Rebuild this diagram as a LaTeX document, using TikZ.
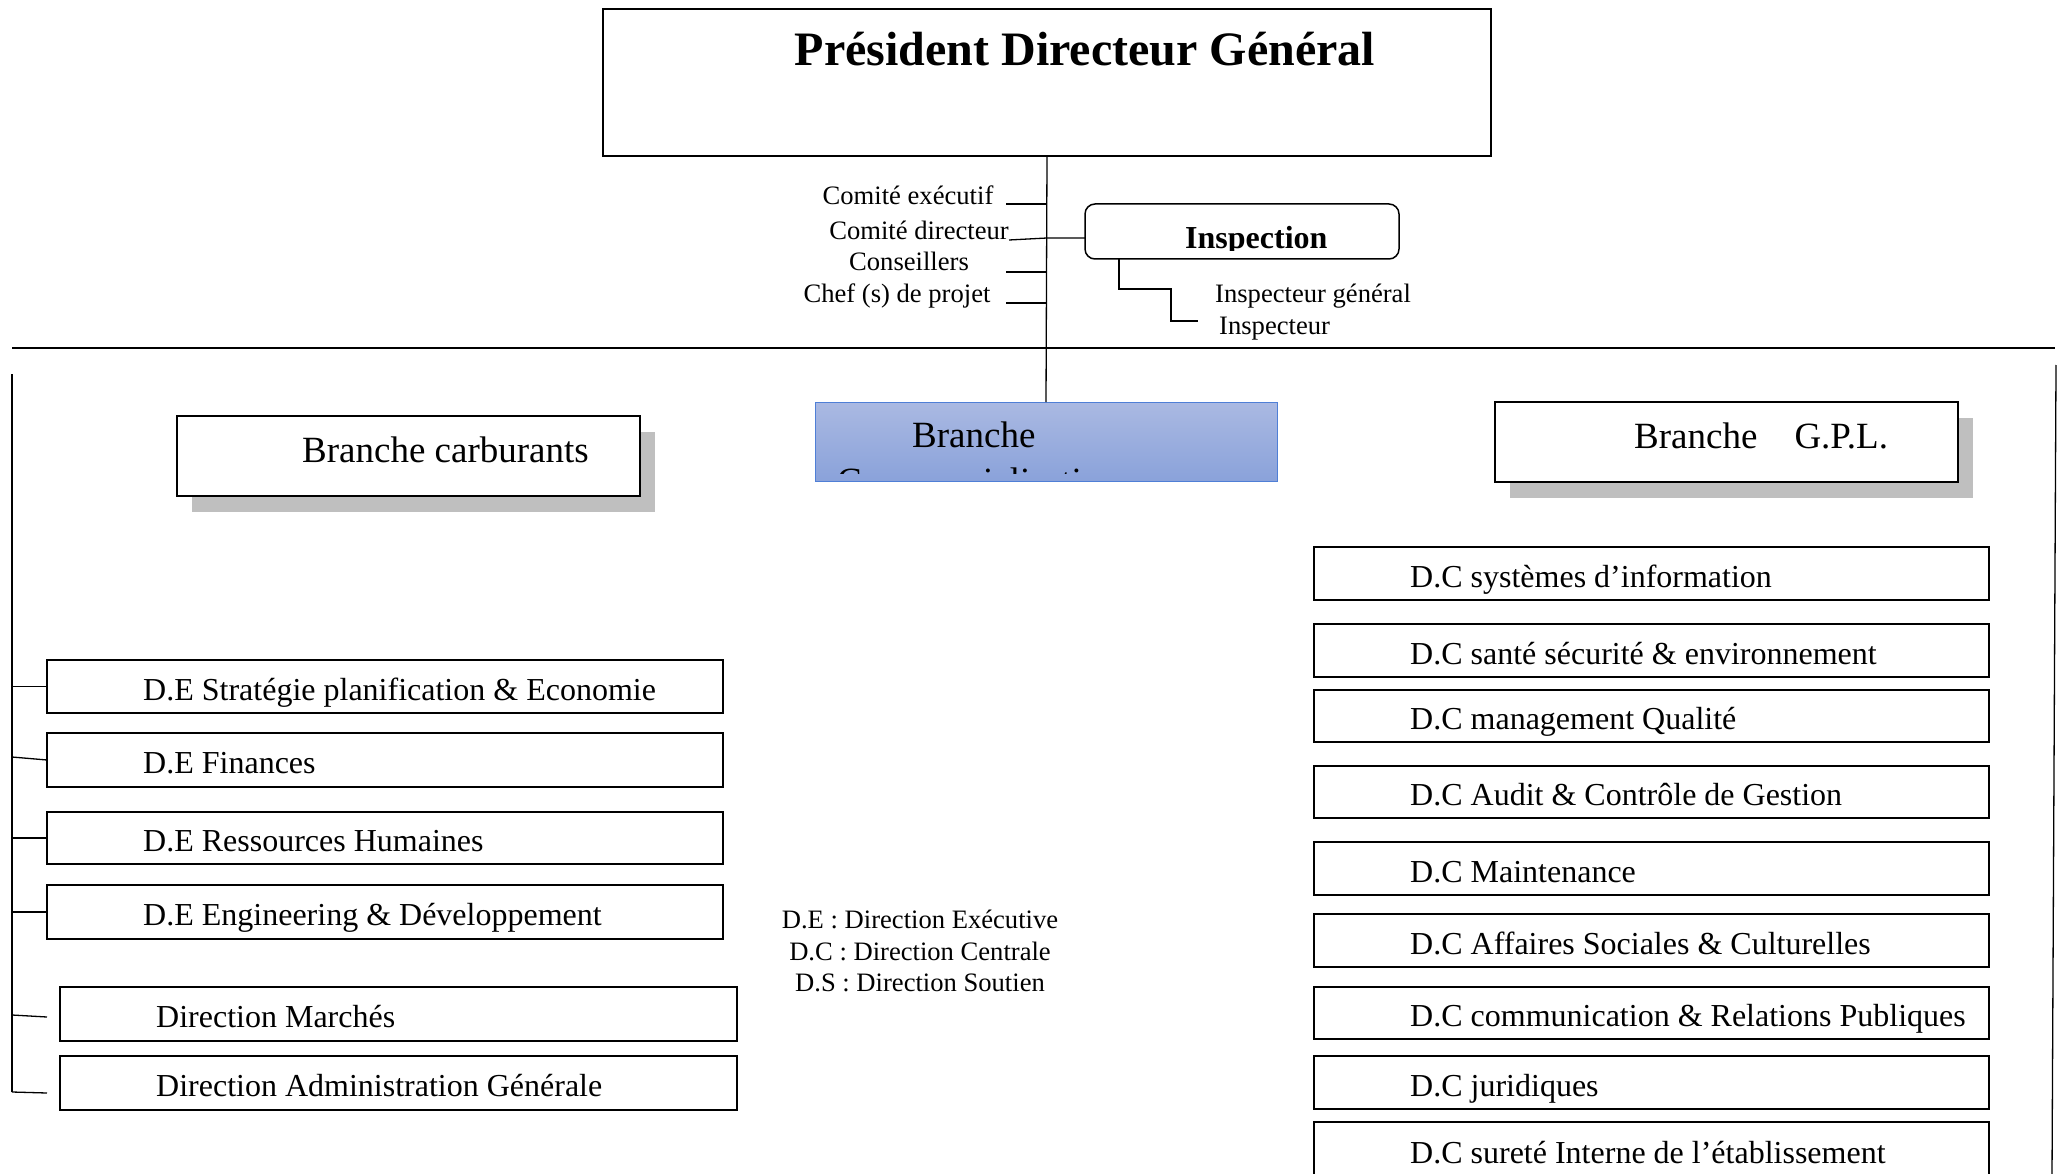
\documentclass[tikz,border=0pt]{standalone}
\usepackage{fontspec}
\setmainfont{Liberation Serif}
\usetikzlibrary{calc,shadows}
\definecolor{shadowgray}{HTML}{BFBFBF}
\definecolor{comtop}{HTML}{AAB9E2}
\definecolor{combottom}{HTML}{8AA2DA}
\definecolor{comedge}{HTML}{4F7FD6}
\begin{document}
\begin{tikzpicture}[x=1pt,y=-1pt,
  orgbox/.style={draw,line width=1.5pt,fill=white,inner sep=0pt,outer sep=0pt,anchor=north west},
  dirbox/.style={orgbox,minimum width=675pt,minimum height=53pt},
  branchbox/.style={orgbox,minimum width=463pt,minimum height=80pt,
    drop shadow={shadow xshift=15pt,shadow yshift=-16pt,fill=shadowgray,opacity=1}},
  boxlabel/.style={font=\fontsize{32}{38}\selectfont,anchor=base west,inner sep=0pt},
  branchlabel/.style={font=\fontsize{37}{43}\selectfont,anchor=base west,inner sep=0pt},
  smalllabel/.style={font=\fontsize{26.6}{31}\selectfont,anchor=base,inner sep=0pt},
  link/.style={line width=1.3pt}]
\useasboundingbox (0,0) rectangle (2060,1174);

% ---------- top of the chart ----------
\node[orgbox,minimum width=888pt,minimum height=147pt] (pdg) at (603,9) {};
\node[font=\bfseries\fontsize{48}{56}\selectfont,anchor=base,inner sep=0pt] (pdgt) at (1085,66) {Président Directeur Général};

\node[orgbox,rounded corners=10pt,minimum width=314pt,minimum height=55pt] (insp) at (1085,204) {};
\begin{scope}
  \clip (1085,204) rectangle (1399,251);
  \node[font=\bfseries\fontsize{32}{38}\selectfont,anchor=base west,inner sep=0pt] (inspt) at (1185,249) {Inspection};
\end{scope}

\node[smalllabel] (ce) at (908,205) {Comité exécutif};
\node[smalllabel] (cd) at (919,240) {Comité directeur};
\node[smalllabel] (cs) at (909,270) {Conseillers};
\node[smalllabel] (cp) at (897,302) {Chef (s) de projet};
\node[smalllabel,anchor=base west] (ig) at (1215,302) {Inspecteur général};
\node[smalllabel,anchor=base west] (ins) at (1219,334) {Inspecteur};

% ---------- branches ----------
\node[branchbox] (bcarb) at (177,416) {};
\node[branchlabel] (bcarbt) at (302,462) {Branche carburants};

\node[orgbox,minimum width=462pt,minimum height=79pt,line width=1pt,draw=comedge,
  top color=comtop,bottom color=combottom] (bcom) at (815,402) {};
\begin{scope}
  \clip (bcom.north west) rectangle ($(bcom.south east)+(0,-8)$);
  \node[branchlabel] (bcomt1) at (912,447) {Branche};
  \node[branchlabel] (bcomt2) at (837,493) {Commercialisation};
\end{scope}

\node[branchbox] (bgpl) at (1495,402) {};
\node[branchlabel] (bgplt) at (1634,448) {Branche\hspace{37pt}G.P.L.};

% ---------- executive directions (left) ----------
\node[dirbox,minimum width=676pt] (de1) at (47,660) {};
\node[dirbox,minimum width=676pt,minimum height=54pt] (de2) at (47,733) {};
\node[dirbox,minimum width=676pt,minimum height=52pt] (de3) at (47,812) {};
\node[dirbox,minimum width=676pt,minimum height=54pt] (de4) at (47,885) {};
\node[dirbox,minimum width=677pt,minimum height=54pt] (dm) at (60,987) {};
\node[dirbox,minimum width=677pt,minimum height=54pt] (dag) at (60,1056) {};

\node[boxlabel] (de1t) at ($(de1.west)+(96,13.5)$) {D.E Stratégie planification \& Economie};
\node[boxlabel] (de2t) at ($(de2.west)+(96,13.5)$) {D.E Finances};
\node[boxlabel] (de3t) at ($(de3.west)+(96,13.5)$) {D.E Ressources Humaines};
\node[boxlabel] (de4t) at ($(de4.west)+(96,13.5)$) {D.E Engineering \& Développement};
\node[boxlabel] (dmt) at ($(dm.west)+(96,13.5)$) {Direction Marchés};
\node[boxlabel] (dagt) at ($(dag.west)+(96,13.5)$) {Direction Administration Générale};

% ---------- central directions (right) ----------
\node[dirbox] (dc1) at (1314,547) {};
\node[dirbox] (dc2) at (1314,624) {};
\node[dirbox,minimum height=52pt] (dc3) at (1314,690) {};
\node[dirbox,minimum height=52pt] (dc4) at (1314,766) {};
\node[dirbox] (dc5) at (1314,842) {};
\node[dirbox] (dc6) at (1314,914) {};
\node[dirbox,minimum height=52pt] (dc7) at (1314,987) {};
\node[dirbox] (dc8) at (1314,1056) {};
\node[dirbox,minimum height=80pt] (dc9) at (1314,1122) {};

\node[boxlabel] (dc1t) at ($(dc1.west)+(96,13.5)$) {D.C systèmes d’information};
\node[boxlabel] (dc2t) at ($(dc2.west)+(96,13.5)$) {D.C santé sécurité \& environnement};
\node[boxlabel] (dc3t) at ($(dc3.west)+(96,13.5)$) {D.C management Qualité};
\node[boxlabel] (dc4t) at ($(dc4.west)+(96,13.5)$) {D.C Audit \& Contrôle de Gestion};
\node[boxlabel] (dc5t) at ($(dc5.west)+(96,13.5)$) {D.C Maintenance};
\node[boxlabel] (dc6t) at ($(dc6.west)+(96,13.5)$) {D.C Affaires Sociales \& Culturelles};
\node[boxlabel] (dc7t) at ($(dc7.west)+(96,13.5)$) {D.C communication \& Relations Publiques};
\node[boxlabel] (dc8t) at ($(dc8.west)+(96,13.5)$) {D.C juridiques};
\node[boxlabel,anchor=base west] (dc9t) at (1410,1163) {D.C sureté Interne de l’établissement};

% ---------- legend ----------
\node[smalllabel] (lg1) at (920,928) {D.E : Direction Exécutive};
\node[smalllabel] (lg2) at (920,960) {D.C : Direction Centrale};
\node[smalllabel] (lg3) at (920,991) {D.S : Direction Soutien};

% ---------- connectors ----------
\draw[link] (pdg.south) -- (bcom.north);

\coordinate (t1) at (1006,204);
\coordinate (t2) at (1009,240);
\coordinate (j2) at (1047,238);
\coordinate (t3) at (1006,272);
\coordinate (t4) at (1006,303);
\draw[link] (t1) -- (t1 -| pdg.south);
\draw[link] (t2) -- (j2) -- (j2 -| insp.west);
\draw[link] (t3) -- (t3 -| pdg.south);
\draw[link] (t4) -- (t4 -| pdg.south);

\coordinate (ia) at (1119,289);
\coordinate (ib) at (1171,321);
\coordinate (ic) at (1198,321);
\draw[link] (ia |- insp.south) -- (ia) -- (ia -| ib) -- (ib) -- (ic);

% separator and side rails
\coordinate (hl1) at (12,348);
\coordinate (hl2) at (2055,348);
\draw[link] (hl1) -- (hl2);

\coordinate (lt) at (12,374);
\coordinate (lb) at (12,1092);
\draw[link] (lt) -- (lb);

\coordinate (rt) at (2056,365);
\coordinate (rb) at (2052,1174);
\draw[link] (rt) -- (rb);

% ticks from the left rail to the directions
\draw[link] (lt |- de1.west) -- (de1.west);
\draw[link] (12,757) -- (de2.west);
\draw[link] (lt |- de3.west) -- (de3.west);
\draw[link] (lt |- de4.west) -- (de4.west);
\draw[link] (12,1015) -- ($(dm.west)+(-13,3)$);
\draw[link] (lb) -- ($(dag.west)+(-13,10)$);
\end{tikzpicture}
\end{document}
